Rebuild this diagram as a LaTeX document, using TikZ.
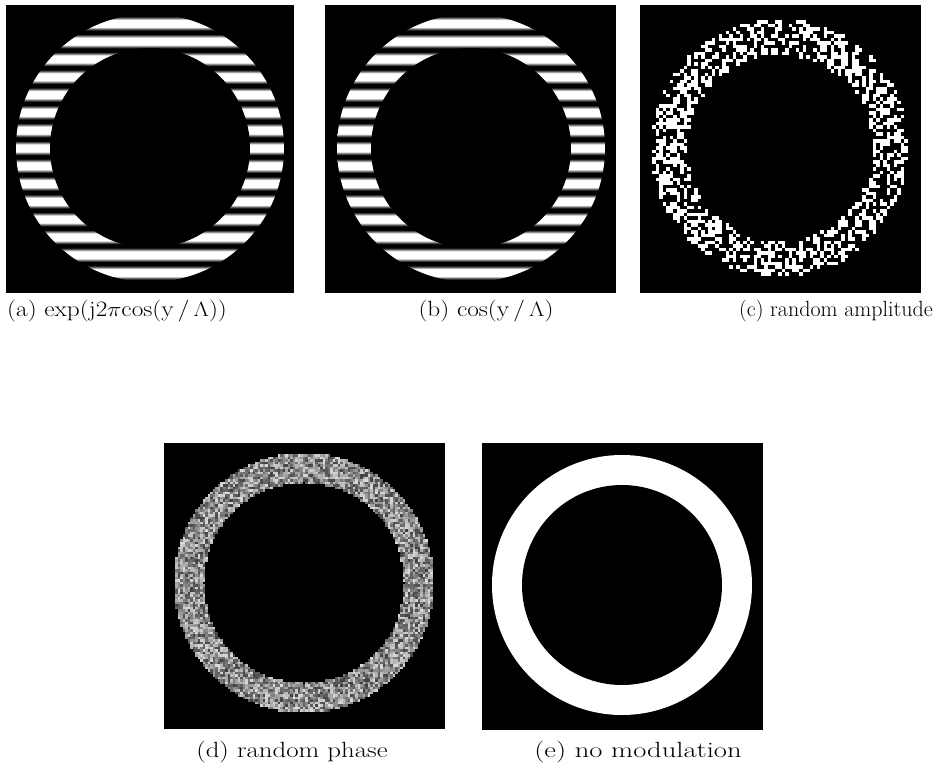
\documentclass[tikz,border=0pt]{standalone}
\usetikzlibrary{calc}
\pgfdeclareverticalshading{fringe}{100bp}{color(0bp)=(black); color(30bp)=(black); color(35bp)=(black!55); color(40bp)=(white); color(60bp)=(white); color(65bp)=(black!55); color(70bp)=(black); color(100bp)=(black)}

\begin{document}
\begin{tikzpicture}[x=1pt, y=-1pt,
  capt/.style={font=\fontsize{22}{26}\selectfont, inner sep=0pt}]
  \useasboundingbox (0,0) rectangle (938,763);
  \fill[white] (0,0) rectangle (938,763);
  \pgfmathsetseed{41}

  %% ── Panel A: exp(j2pi cos) fringes ───────────────────────
  \fill[black] (6,5) rectangle (294,293);
  \begin{scope}[shift={(150,148)}]
  \clip (0,0) circle[radius=134];
  \foreach \k in {-7,...,7}
    \shade[shading=fringe] (-140,{\k*17.8-8.9}) rectangle (140,{\k*17.8+8.9});
  \fill[black] (0,0) circle[radius=100];
  \end{scope}
  \node[capt, anchor=base west] (capa) at (7,316)
    {\scalebox{1.15}[1]{(a) exp(j2$\pi$cos(y\,/\,$\Lambda$))}};

  %% ── Panel B: cos fringes ─────────────────────────────────
  \fill[black] (325,5) rectangle (616,293);
  \begin{scope}[shift={(471,148)}]
  \clip (0,0) circle[radius=134];
  \foreach \k in {-7,...,7}
    \shade[shading=fringe] (-140,{\k*17.8-8.9}) rectangle (140,{\k*17.8+8.9});
  \fill[black] (0,0) circle[radius=100];
  \end{scope}
  \node[capt, anchor=base] (capb) at (486,316)
    {\scalebox{1.15}[1]{(b) cos(y\,/\,$\Lambda$)}};

  %% ── Panel C: random amplitude ────────────────────────────
  \fill[black] (640,5) rectangle (921,293);
  \begin{scope}[shift={(780,148)}]
  \foreach \i in {-37,...,37}{
    \foreach \j in {-37,...,37}{
      \ifnum\numexpr\i*\i+\j*\j\relax>706
      \ifnum\numexpr\i*\i+\j*\j\relax<1360
        \pgfmathsetmacro\pp{int(rnd*100)}
        \ifnum\pp<50
          \fill[white] ({\i*3.5-1.75},{\j*3.5-1.75}) rectangle ++(3.6,3.6);
        \fi
      \fi\fi
    }}
  \end{scope}
  \node[capt, anchor=base east] (capc) at (933,316) {(c) random amplitude};

  %% ── Panel D: random phase ────────────────────────────────
  \fill[black] (164,443) rectangle (445,729);
  \begin{scope}[shift={(304,583)}]
  \foreach \i in {-52,...,52}{
    \foreach \j in {-52,...,52}{
      \ifnum\numexpr\i*\i+\j*\j\relax>1600
      \ifnum\numexpr\i*\i+\j*\j\relax<2704
        \pgfmathsetmacro\g{int(25+62*rnd)}
        \fill[white!\g!black] ({\i*2.5-1.25},{\j*2.5-1.25}) rectangle ++(2.6,2.6);
      \fi\fi
    }}
  \end{scope}
  \node[capt, anchor=base] (capd) at (292,757)
    {\scalebox{1.22}[1]{(d) random phase}};

  %% ── Panel E: no modulation ───────────────────────────────
  \fill[black] (482,443) rectangle (763,730);
  \fill[white] (622,585) circle[radius=130];
  \fill[black] (622,585) circle[radius=100];
  \node[capt, anchor=base] (cape) at (638,757)
    {\scalebox{1.3}[1]{(e) no modulation}};
\end{tikzpicture}
\end{document}
